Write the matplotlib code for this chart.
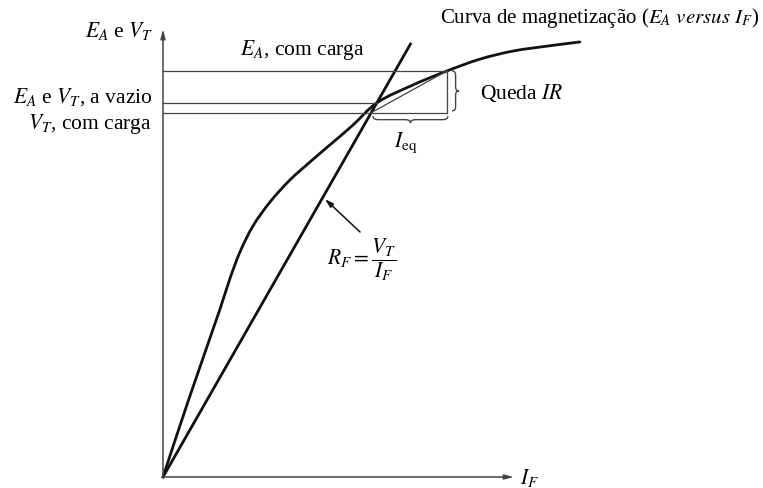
"""
Gerador shunt: curva de magnetização, reta de campo R_F e triângulo
da reação de armadura (queda IR e I_eq).
"""

import numpy as np
import matplotlib.pyplot as plt
from matplotlib.path import Path
from matplotlib.patches import PathPatch

plt.rcParams['font.family'] = 'serif'
plt.rcParams['font.serif'] = ['Liberation Serif', 'DejaVu Serif']
plt.rcParams['mathtext.fontset'] = 'stix'

# curva de magnetização (I_F, E_A), unidades arbitrárias
curve_if = [0.00, 0.74, 1.63, 1.91, 2.20, 2.57, 3.06, 3.63, 4.20, 4.77,
            5.40, 6.11, 7.14, 8.11, 9.06, 10.00, 10.97, 11.91]
curve_ea = [0.00, 2.23, 4.80, 5.66, 6.43, 7.17, 7.86, 8.49, 9.00, 9.49,
            10.03, 10.69, 11.20, 11.60, 11.94, 12.17, 12.31, 12.43]

# ponto a vazio (interseção da reta R_F com a curva) e ponto com carga
if_noload = 6.11
ea_noload = 10.69
if_load = 8.11
ea_load = 11.60
vt_load = 10.41
rf_top = 12.37          # altura onde termina a reta R_F

axis_x_max = 10.03
axis_y_max = 12.80

THICK = 2.0
THIN = 0.9
DARK = '#111111'
GRAY = '#444444'


def smooth_path(xs, ys):
    """Curva suave pelos pontos: Bézier cúbica com tangentes normalizadas."""
    pts = np.column_stack([xs, ys]).astype(float)
    n = len(pts)
    tang = np.zeros_like(pts)
    for i in range(n):
        d = pts[min(i + 1, n - 1)] - pts[max(i - 1, 0)]
        tang[i] = d / np.hypot(*d)
    verts = [pts[0]]
    codes = [Path.MOVETO]
    for i in range(n - 1):
        L = np.hypot(*(pts[i + 1] - pts[i]))
        verts += [pts[i] + tang[i] * L / 3, pts[i + 1] - tang[i + 1] * L / 3,
                  pts[i + 1]]
        codes += [Path.CURVE4] * 3
    return Path(verts, codes)


def brace(ax, a, b, depth, r, **kw):
    """Chave entre os pontos a e b; a ponta fica à direita do sentido a->b."""
    a = np.asarray(a, float)
    b = np.asarray(b, float)
    u = b - a
    L = np.hypot(*u)
    u = u / L
    n = np.array([u[1], -u[0]])
    h = depth / 2.0
    m = L / 2.0

    def p(s, t):
        return a + s * u + t * n

    verts = [p(0, 0), p(0, h), p(r, h),
             p(m - r, h), p(m, h), p(m, 2 * h),
             p(m, h), p(m + r, h),
             p(L - r, h), p(L, h), p(L, 0)]
    codes = [Path.MOVETO, Path.CURVE3, Path.CURVE3,
             Path.LINETO, Path.CURVE3, Path.CURVE3,
             Path.CURVE3, Path.CURVE3,
             Path.LINETO, Path.CURVE3, Path.CURVE3]
    ax.add_patch(PathPatch(Path(verts, codes), fill=False, **kw))


fig = plt.figure(figsize=(7.63, 4.89), dpi=100)
ax = fig.add_axes([0, 0, 1, 1])
ax.set_xlim(-4.657, 17.143)
ax.set_ylim(-0.314, 13.657)
ax.axis('off')

# eixos com setas
arrow_kw = dict(arrowstyle='-|>,head_length=0.55,head_width=0.14',
                lw=1.1, color=GRAY, shrinkA=0, shrinkB=0)
ax.annotate('', xy=(axis_x_max, 0), xytext=(0, 0), arrowprops=arrow_kw)
ax.annotate('', xy=(0, axis_y_max), xytext=(0, 0), arrowprops=arrow_kw)

# curva de magnetização
ax.add_patch(PathPatch(smooth_path(curve_if, curve_ea), fill=False,
                       edgecolor=DARK, lw=THICK, capstyle='round'))

# reta do resistor de campo R_F
rf_slope = ea_noload / if_noload
ax.plot([0, rf_top / rf_slope], [0, rf_top], color=DARK, lw=THICK)

# linhas horizontais de nível
ax.plot([0, if_load], [ea_load, ea_load], color=GRAY, lw=THIN)
ax.plot([0, if_noload], [ea_noload, ea_noload], color=GRAY, lw=THIN)
ax.plot([0, if_load], [vt_load, vt_load], color=GRAY, lw=THIN)

# triângulo da reação de armadura
if_vt = vt_load / rf_slope
ax.plot([if_load, if_load], [vt_load, ea_load], color=GRAY, lw=THIN)
ax.plot([if_vt, if_load], [vt_load, ea_load], color=GRAY, lw=THIN)

# chaves
brace(ax, (8.26, 10.46), (8.26, 11.60), depth=0.2, r=0.12, color=GRAY, lw=1.0)
brace(ax, (6.00, 10.31), (8.14, 10.31), depth=0.2, r=0.15, color=GRAY, lw=1.0)

# seta indicando a reta R_F
ax.annotate('', xy=(4.63, 7.94), xytext=(5.63, 7.0),
            arrowprops=dict(arrowstyle='-|>,head_length=0.5,head_width=0.15',
                            lw=1.1, color=DARK, shrinkA=0, shrinkB=0))

fs = 15.5
ax.text(-0.29, 12.77, r'$E_A$ e $V_T$', fontsize=fs, ha='right', va='center')
ax.text(2.2, 12.23, r'$E_A$, com carga', fontsize=fs, ha='left', va='center')
ax.text(-0.31, 10.89, r'$E_A$ e $V_T$, a vazio', fontsize=fs, ha='right', va='center')
ax.text(-0.31, 10.10, r'$V_T$, com carga', fontsize=fs, ha='right', va='center')
ax.text(17.03, 13.14, r'Curva de magnetização ($E_A$ $versus$ $I_F$)',
        fontsize=15, ha='right', va='center')
ax.text(9.06, 11.0, r'Queda $IR$', fontsize=fs, ha='left', va='center')
ax.text(6.94, 9.58, r'$I_{\mathrm{eq}}$', fontsize=fs, ha='center', va='center')
ax.text(4.69, 6.23, r'$R_F = \dfrac{V_T}{I_F}$', fontsize=fs, ha='left', va='center')
ax.text(10.2, -0.17, r'$I_F$', fontsize=fs, ha='left', va='baseline')

fig.savefig('out.png', dpi=100)
